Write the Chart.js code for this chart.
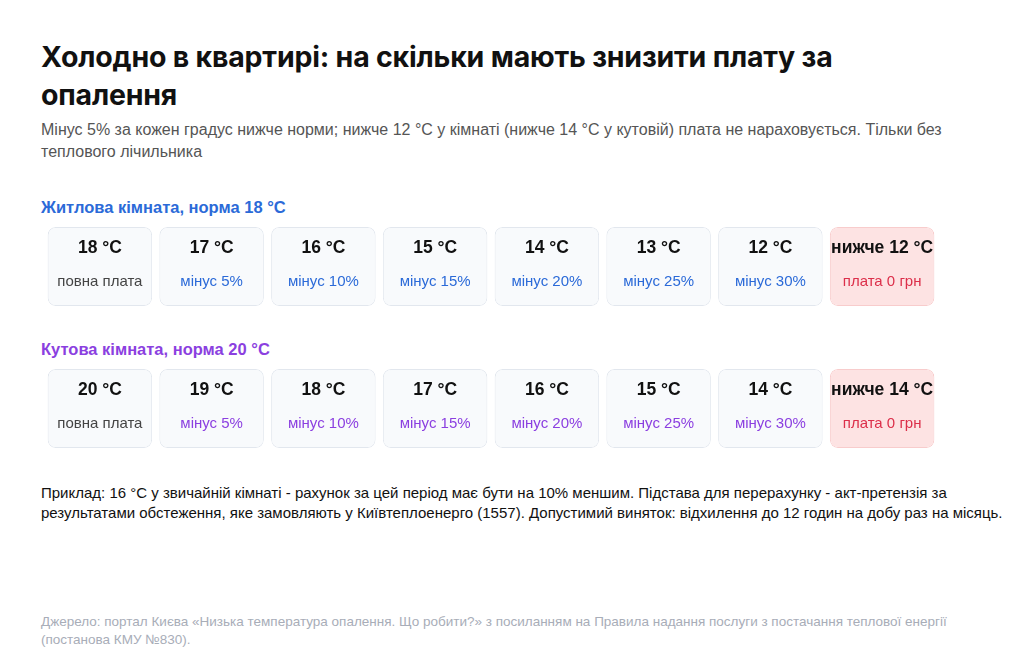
<!DOCTYPE html>
<html><head><meta charset="utf-8">
<script src="https://cdn.jsdelivr.net/npm/chart.js@4"></script>
<style>
body{margin:0;width:1024px;height:672px;background:#fff;font-family:"Liberation Sans",Arial,sans-serif;position:relative;overflow:hidden;color:#111}
.t{position:absolute;left:41px;top:38px;width:900px;font-family:Inter,sans-serif;font-size:28.5px;font-weight:700;line-height:38px;letter-spacing:-0.2px}
.s{position:absolute;left:41px;top:119px;width:950px;font-size:16px;line-height:22px;color:#555}
.l{position:absolute;left:41px;font-size:16.5px;font-weight:700}
.e{position:absolute;left:41px;top:483px;width:970px;font-size:15px;line-height:19.5px;color:#111}
.src{position:absolute;left:41px;top:613px;width:920px;font-size:13.5px;line-height:18px;color:#a8adb8}
#wrap{position:absolute;left:44px;top:226px;width:894px;height:224px}
</style></head><body>
<div class="t">Холодно в квартирі: на скільки мають знизити плату за опалення</div>
<div class="s">Мінус 5% за кожен градус нижче норми; нижче 12 °C у кімнаті (нижче 14 °C у кутовій) плата не нараховується. Тільки без теплового лічильника</div>
<div class="l" style="top:198px;color:#2b6ad8">Житлова кімната, норма 18 °C</div>
<div class="l" style="top:340px;color:#8b3fe0">Кутова кімната, норма 20 °C</div>
<div id="wrap"><canvas id="c"></canvas></div>
<div class="e">Приклад: 16 °C у звичайній кімнаті - рахунок за цей період має бути на 10% меншим. Підстава для перерахунку - акт-претензія за результатами обстеження, яке замовляють у Київтеплоенерго (1557). Допустимий виняток: відхилення до 12 годин на добу раз на місяць.</div>
<div class="src">Джерело: портал Києва «Низька температура опалення. Що робити?» з посиланням на Правила надання послуги з постачання теплової енергії (постанова КМУ №830).</div>
<script>
const columns=["0","1","2","3","4","5","6","7"];
const row1Temps=["18 °C","17 °C","16 °C","15 °C","14 °C","13 °C","12 °C","нижче 12 °C"];
const row2Temps=["20 °C","19 °C","18 °C","17 °C","16 °C","15 °C","14 °C","нижче 14 °C"];
const discounts=["повна плата","мінус 5%","мінус 10%","мінус 15%","мінус 20%","мінус 25%","мінус 30%","плата 0 грн"];
const row1Band=[1,80], row2Band=[143,222];
const cellBg=i=>i===7?"#fde3e3":"#f8fafc";
const cellBd=i=>i===7?"#f8cccc":"#e2e7ee";
const labels={id:"lbl",afterDatasetsDraw(ch){const c=ch.ctx;
 [[0,row1Temps,"#2b6ad8"],[1,row2Temps,"#8b3fe0"]].forEach(([d,temps,col])=>{
  ch.getDatasetMeta(d).data.forEach((b,i)=>{const top=Math.min(b.y,b.base);
   c.save();c.textAlign="center";c.textBaseline="middle";
   c.fillStyle="#111";c.font="bold 17.5px 'Liberation Sans', Arial, sans-serif";c.fillText(temps[i],b.x,top+21);
   c.font="15px 'Liberation Sans', Arial, sans-serif";
   c.fillStyle=i===0?"#444":(i===7?"#dc2f4a":col);
   c.fillText(discounts[i],b.x,top+55);c.restore();});});}};
new Chart(document.getElementById("c"),{type:"bar",
 data:{labels:columns,datasets:[
  {data:columns.map(()=>row1Band),backgroundColor:columns.map((_,i)=>cellBg(i)),borderColor:columns.map((_,i)=>cellBd(i)),borderWidth:1,borderRadius:8,borderSkipped:false,grouped:false},
  {data:columns.map(()=>row2Band),backgroundColor:columns.map((_,i)=>cellBg(i)),borderColor:columns.map((_,i)=>cellBd(i)),borderWidth:1,borderRadius:8,borderSkipped:false,grouped:false}]},
 options:{responsive:true,maintainAspectRatio:false,animation:false,categoryPercentage:0.935,barPercentage:1,
  layout:{padding:0},plugins:{legend:{display:false},tooltip:{enabled:false}},
  scales:{x:{display:false},y:{display:false,min:0,max:224,reverse:true}}},
 plugins:[labels]});
</script></body></html>
